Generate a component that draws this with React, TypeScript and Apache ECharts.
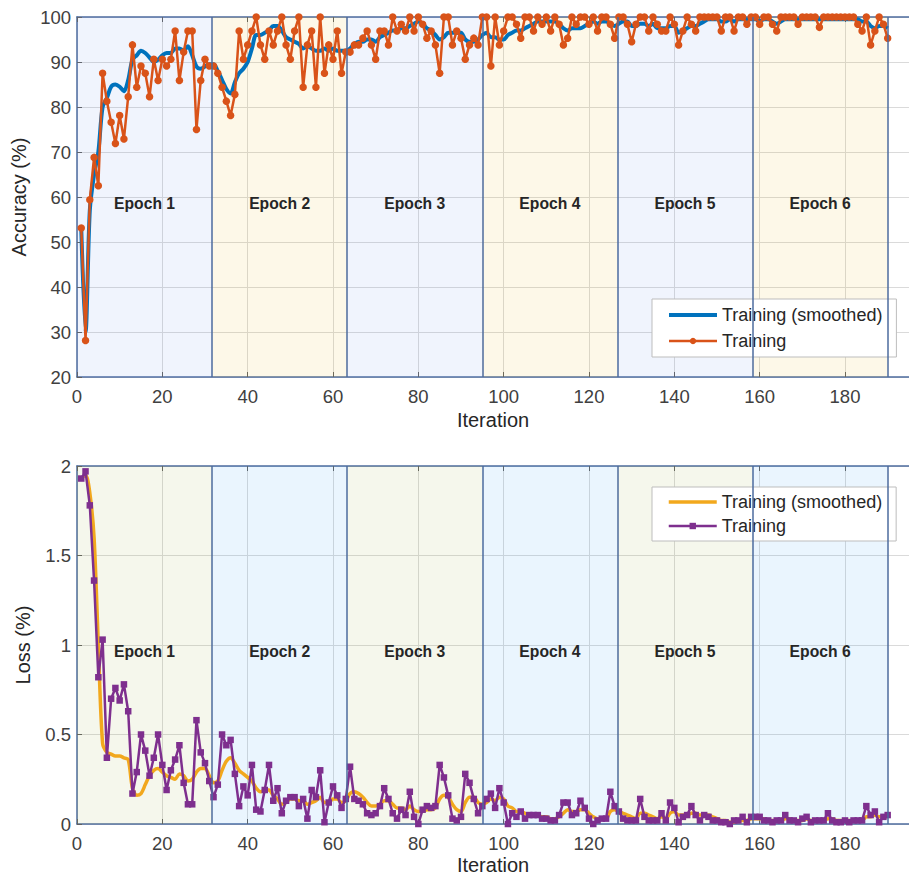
import React, { useEffect, useRef } from "react";
import * as echarts from "echarts";

const TOTAL_ITERATIONS = 190;
const X_MAX = 195;
const epochNames = ["Epoch 1", "Epoch 2", "Epoch 3", "Epoch 4", "Epoch 5", "Epoch 6"];

const accuracyTraining = [
  53.1, 28.1, 59.4, 68.8, 62.5, 87.5, 81.3, 76.6, 71.9, 78.1,
  72.9, 82.3, 93.8, 84.4, 89.1, 87.5, 82.3, 90.6, 85.9, 90.6,
  89.1, 90.6, 96.9, 85.9, 92.2, 96.9, 96.9, 75.0, 85.9, 90.6, 89.1,
  89.1, 87.5, 84.4, 81.3, 78.1, 82.8, 96.9, 90.6, 93.8, 96.9,
  100, 93.8, 90.6, 96.9, 93.8, 96.9, 100, 93.8, 90.6, 96.9,
  100, 84.4, 93.8, 96.9, 84.4, 100, 87.5, 93.8, 90.6, 96.9, 87.5, 92.2,
  92.2, 93.8, 93.8, 95.3, 96.9, 93.8, 90.6, 96.9, 96.9, 93.8,
  100, 96.9, 98.4, 96.9, 100, 96.9, 100, 98.4, 95.3, 96.9,
  93.8, 87.5, 100, 100, 93.8, 96.9, 95.3, 90.6, 93.8, 95.3, 93.8, 100,
  100, 89.1, 100, 93.8, 96.9, 100, 100, 98.4, 95.3, 100,
  100, 96.9, 100, 98.4, 100, 96.9, 100, 98.4, 93.8, 95.3,
  100, 98.4, 100, 100, 98.4, 100, 96.9, 100, 100, 98.4, 95.3,
  100, 100, 98.4, 94.5, 98.4, 100, 100, 96.9, 100, 98.4,
  96.9, 96.9, 100, 98.4, 93.8, 96.9, 100, 98.4, 96.9, 100,
  100, 100, 100, 100, 96.9, 100, 100, 96.9, 100, 100, 98.4, 100,
  100, 98.4, 100, 100, 98.4, 96.9, 100, 100, 100, 100,
  98.4, 100, 100, 100, 100, 97.7, 100, 100, 100, 100,
  100, 100, 100, 100, 98.4, 96.9, 100, 93.8, 96.9, 100, 98.4, 95.3,
];

const accuracySmoothed = [
  53, 30, 57, 65, 70, 80, 82, 84.5, 85, 84.5,
  83.5, 86, 90.5, 91.5, 92.5, 92, 91, 90, 90.5, 91.5,
  92, 92, 93, 93, 92.5, 93.5, 91.5, 89, 88.5, 89,
  89.5, 89.5, 88, 86, 84, 83, 85.5, 87.5, 88.5, 90,
  93, 96, 96, 96.5, 97, 98, 98, 97, 95.5, 95,
  94.5, 94, 93, 93.5, 93, 92.5, 92.5, 93, 92.5, 93,
  92.5, 92.5, 92.5, 93, 94, 94.5, 94.5, 95, 95, 94.5,
  95.5, 96, 96.5, 97, 97, 97.5, 97.5, 98, 98.5, 99,
  98.5, 97.5, 97, 96, 95, 95.5, 96.5, 96.5, 96.5, 96.5,
  95, 94.5, 94.5, 95, 96, 96.5, 95.5, 95.5, 95, 95,
  96, 96.5, 97, 97, 97.5, 98, 98.5, 99, 99, 99,
  99, 99, 98.5, 97.5, 97, 97.5, 97.5, 97.5, 98, 98.5,
  99, 98.5, 99, 99, 98.5, 98, 98.5, 99, 99, 98,
  98, 98.5, 98.5, 98, 98.5, 97.5, 97.5, 97.5, 98, 98,
  96.5, 97, 97.5, 98, 98, 98.5, 99, 99.5, 99.5, 99.5,
  99, 99, 99.5, 99, 99.5, 99.5, 99.5, 99.5, 99.5, 99,
  99.5, 99.5, 99, 98.5, 99, 99.5, 99.5, 99.5, 99.5, 99.5,
  99.5, 99.5, 99.5, 99.5, 99.5, 99.5, 99.5, 99.5, 99.5, 99.5,
  99.5, 99.5, 99.5, 99, 99, 98, 97.5, 98, 98, 97.5,
];

const lossTraining = [
  1.93, 1.97, 1.78, 1.36, 0.82, 1.03, 0.37, 0.70, 0.76, 0.69,
  0.78, 0.63, 0.17, 0.29, 0.50, 0.41, 0.27, 0.37, 0.50, 0.33,
  0.19, 0.30, 0.36, 0.44, 0.23, 0.11, 0.11, 0.58, 0.40, 0.34, 0.24,
  0.15, 0.22, 0.50, 0.44, 0.47, 0.28, 0.10, 0.21, 0.16, 0.33,
  0.08, 0.07, 0.19, 0.33, 0.13, 0.20, 0.06, 0.13, 0.15, 0.15,
  0.10, 0.14, 0.03, 0.19, 0.15, 0.30, 0.01, 0.12, 0.21, 0.16, 0.09, 0.14,
  0.32, 0.14, 0.13, 0.11, 0.06, 0.05, 0.06, 0.10, 0.20, 0.14,
  0.06, 0.03, 0.08, 0.05, 0.18, 0.04, 0.00, 0.08, 0.10, 0.09,
  0.10, 0.33, 0.26, 0.16, 0.03, 0.02, 0.04, 0.28, 0.23, 0.14, 0.06, 0.10,
  0.14, 0.17, 0.09, 0.20, 0.12, 0.00, 0.06, 0.04, 0.07, 0.03,
  0.05, 0.05, 0.05, 0.03, 0.03, 0.02, 0.02, 0.05, 0.12, 0.12,
  0.05, 0.06, 0.13, 0.09, 0.03, 0.00, 0.02, 0.03, 0.03, 0.18, 0.10,
  0.07, 0.03, 0.02, 0.02, 0.02, 0.14, 0.04, 0.02, 0.02, 0.02,
  0.06, 0.02, 0.12, 0.09, 0.01, 0.04, 0.05, 0.10, 0.05, 0.02,
  0.05, 0.04, 0.02, 0.02, 0.01, 0.01, 0.00, 0.02, 0.02, 0.04, 0.01, 0.04,
  0.04, 0.04, 0.02, 0.02, 0.01, 0.02, 0.02, 0.05, 0.02, 0.02,
  0.01, 0.03, 0.04, 0.01, 0.02, 0.02, 0.02, 0.06, 0.02, 0.01,
  0.01, 0.02, 0.01, 0.02, 0.02, 0.02, 0.10, 0.05, 0.07, 0.01, 0.04, 0.05,
];

const lossSmoothed = [
  1.93, 1.95, 1.85, 1.6, 1.0, 0.45, 0.4, 0.39, 0.38, 0.38,
  0.37, 0.36, 0.2, 0.16, 0.17, 0.22, 0.27, 0.3, 0.31, 0.29,
  0.27, 0.26, 0.25, 0.28, 0.27, 0.24, 0.25, 0.29, 0.31, 0.31,
  0.27, 0.23, 0.24, 0.3, 0.35, 0.37, 0.34, 0.3, 0.28, 0.26,
  0.24, 0.2, 0.18, 0.19, 0.19, 0.16, 0.14, 0.11, 0.12, 0.14,
  0.14, 0.13, 0.13, 0.11, 0.12, 0.13, 0.15, 0.12, 0.12, 0.14,
  0.14, 0.12, 0.13, 0.17, 0.18, 0.17, 0.15, 0.12, 0.1, 0.1,
  0.11, 0.13, 0.13, 0.11, 0.09, 0.09, 0.08, 0.1, 0.08, 0.07,
  0.07, 0.08, 0.08, 0.09, 0.14, 0.16, 0.15, 0.11, 0.08, 0.07,
  0.12, 0.15, 0.15, 0.12, 0.11, 0.12, 0.14, 0.13, 0.15, 0.14,
  0.1, 0.09, 0.07, 0.07, 0.06, 0.05, 0.05, 0.05, 0.04, 0.04,
  0.03, 0.03, 0.04, 0.06, 0.08, 0.07, 0.07, 0.08, 0.08, 0.06,
  0.04, 0.03, 0.03, 0.03, 0.07, 0.08, 0.07, 0.06, 0.05, 0.04,
  0.03, 0.06, 0.06, 0.05, 0.04, 0.03, 0.04, 0.03, 0.06, 0.07,
  0.05, 0.05, 0.05, 0.06, 0.06, 0.05, 0.05, 0.05, 0.04, 0.03,
  0.02, 0.02, 0.01, 0.01, 0.02, 0.02, 0.02, 0.03, 0.03, 0.03,
  0.03, 0.02, 0.02, 0.02, 0.02, 0.03, 0.03, 0.02, 0.02, 0.02,
  0.03, 0.02, 0.02, 0.02, 0.02, 0.03, 0.03, 0.02, 0.02, 0.02,
  0.02, 0.02, 0.02, 0.02, 0.04, 0.04, 0.05, 0.04, 0.04, 0.04,
];

const legendLabels: Record<string, string> = {
  acc_s: "Training (smoothed)",
  acc: "Training",
  loss_s: "Training (smoothed)",
  loss: "Training",
};

const FONT = "'Liberation Sans', Arial, Helvetica, sans-serif";
const AXIS_COLOR = "#4d6b9e";

const toPairs = (vals: number[]) => vals.map((v, k) => [k + 1, v]);

export default function App() {
  const ref = useRef<HTMLDivElement>(null);

  useEffect(() => {
    document.body.style.margin = "0";
    if (!ref.current) return;
    const chart = echarts.init(ref.current, null, { renderer: "svg" });
    const perEpoch = TOTAL_ITERATIONS / epochNames.length;

    const xAxesFor = (gridIndex: number, nameGap: number) => [
      {
        type: "value",
        gridIndex,
        min: 0,
        max: X_MAX,
        interval: 20,
        name: "Iteration",
        nameLocation: "middle",
        nameGap,
        nameTextStyle: { fontSize: 20, color: "#262626", fontFamily: FONT },
        axisLine: { show: true, onZero: false, lineStyle: { color: AXIS_COLOR, width: 1.5 } },
        axisTick: { show: true, inside: true, length: 5, lineStyle: { color: "#606060" } },
        axisLabel: { fontSize: 18.5, color: "#404040", margin: 10, showMaxLabel: false, fontFamily: FONT },
        splitLine: { show: true, lineStyle: { color: "#dadada", width: 1 } },
      },
      {
        type: "value",
        gridIndex,
        position: "top",
        min: 0,
        max: X_MAX,
        interval: 20,
        axisLine: { show: true, onZero: false, lineStyle: { color: AXIS_COLOR, width: 1.5 } },
        axisTick: { show: true, inside: true, length: 5, lineStyle: { color: "#606060" } },
        axisLabel: { show: false },
        splitLine: { show: false },
      },
    ];

    const yAxisFor = (gridIndex: number, name: string, min: number, max: number, interval: number) => ({
      type: "value",
      gridIndex,
      min,
      max,
      interval,
      name,
      nameLocation: "middle",
      nameGap: 44,
      nameTextStyle: { fontSize: 20, color: "#262626", fontFamily: FONT },
      axisLine: { show: true, onZero: false, lineStyle: { color: AXIS_COLOR, width: 1.5 } },
      axisTick: { show: true, inside: true, length: 5, lineStyle: { color: "#606060" } },
      axisLabel: { fontSize: 18.5, color: "#404040", margin: 6, fontFamily: FONT },
      splitLine: { show: true, lineStyle: { color: "#dadada", width: 1 } },
    });

    const bgSeries = (axisIndex: number, colors: [string, string]) => ({
      type: "line",
      xAxisIndex: axisIndex * 2,
      yAxisIndex: axisIndex,
      data: [],
      z: 1,
      silent: true,
      markArea: {
        silent: true,
        label: {
          show: true,
          position: "inside",
          offset: [0, 6],
          fontSize: 15.7,
          fontWeight: "bold",
          color: "#262626",
          fontFamily: FONT,
        },
        data: epochNames.map((name, k) => [
          { name, xAxis: k * perEpoch, itemStyle: { color: colors[k % 2] } },
          { xAxis: (k + 1) * perEpoch },
        ]),
      },
      markLine: {
        silent: true,
        symbol: "none",
        label: { show: false },
        lineStyle: { color: AXIS_COLOR, width: 1.5, type: "solid" },
        data: epochNames.map((_, k) => ({ xAxis: (k + 1) * perEpoch })),
      },
    });

    const legendFor = (names: string[], smoothWidth: number, top: number, padding: number[], itemGap: number) => ({
      data: [
        { name: names[0], itemStyle: { opacity: 0 }, lineStyle: { width: smoothWidth } },
        { name: names[1], lineStyle: { width: 2.5 } },
      ],
      left: 652,
      top,
      orient: "vertical",
      itemWidth: 48,
      itemHeight: 8,
      itemGap,
      padding,
      backgroundColor: "#ffffff",
      borderColor: "#bdbdbd",
      borderWidth: 1,
      borderRadius: 0,
      selectedMode: false,
      formatter: (n: string) => legendLabels[n],
      textStyle: { fontSize: 18, color: "#262626", fontFamily: FONT },
    });

    const option = {
      animation: false,
      backgroundColor: "#ffffff",
      textStyle: { fontFamily: FONT },
      grid: [
        { left: 77, top: 17, width: X_MAX * 4.317, height: 360 },
        { left: 77, top: 466, width: X_MAX * 4.317, height: 358 },
      ],
      xAxis: [...xAxesFor(0, 33), ...xAxesFor(1, 31)],
      yAxis: [yAxisFor(0, "Accuracy (%)", 20, 100, 10), yAxisFor(1, "Loss (%)", 0, 2, 0.5)],
      legend: [
        legendFor(["acc_s", "acc"], 4, 299, [7, 14, 7, 15], 8),
        legendFor(["loss_s", "loss"], 3.5, 487, [6, 14, 6, 15], 6),
      ],
      series: [
        bgSeries(0, ["rgba(105,145,235,0.1)", "rgba(240,190,30,0.1)"]),
        bgSeries(1, ["rgba(155,175,65,0.1)", "rgba(45,155,245,0.1)"]),
        {
          name: "acc_s",
          type: "line",
          xAxisIndex: 0,
          yAxisIndex: 0,
          data: toPairs(accuracySmoothed),
          symbol: "none",
          smooth: 0.3,
          lineStyle: { color: "#0072BD", width: 4 },
          itemStyle: { color: "#0072BD" },
          z: 3,
        },
        {
          name: "acc",
          type: "line",
          xAxisIndex: 0,
          yAxisIndex: 0,
          data: toPairs(accuracyTraining),
          symbol: "circle",
          symbolSize: 7.5,
          showSymbol: true,
          lineStyle: { color: "#D95319", width: 2.5 },
          itemStyle: { color: "#D95319" },
          z: 4,
        },
        {
          name: "loss_s",
          type: "line",
          xAxisIndex: 2,
          yAxisIndex: 1,
          data: toPairs(lossSmoothed),
          symbol: "none",
          smooth: 0.3,
          lineStyle: { color: "#F2A81D", width: 3.5 },
          itemStyle: { color: "#F2A81D" },
          z: 3,
        },
        {
          name: "loss",
          type: "line",
          xAxisIndex: 2,
          yAxisIndex: 1,
          data: toPairs(lossTraining),
          symbol: "rect",
          symbolSize: 6.5,
          showSymbol: true,
          lineStyle: { color: "#7E2F8E", width: 2.5 },
          itemStyle: { color: "#7E2F8E" },
          z: 4,
        },
      ],
    };

    chart.setOption(option as any);
    return () => chart.dispose();
  }, []);

  return <div ref={ref} style={{ width: 909, height: 881 }} />;
}
